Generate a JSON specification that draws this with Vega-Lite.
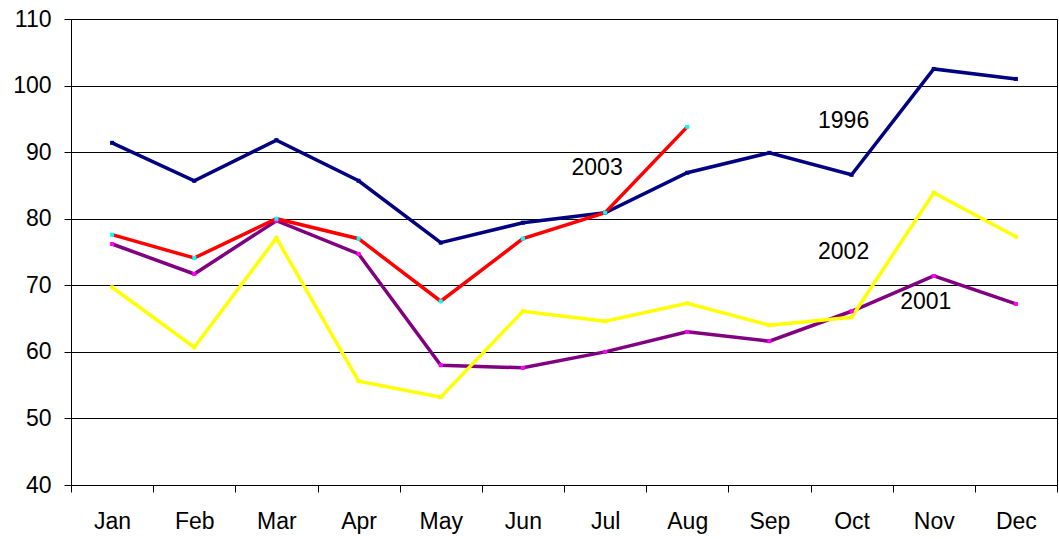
{
  "$schema": "https://vega.github.io/schema/vega-lite/v6.json",
  "width": 986,
  "height": 466,
  "autosize": {"type": "none"},
  "padding": {"left": 71, "top": 19, "right": 2, "bottom": 54},
  "background": "white",
  "config": {
    "view": {"stroke": "black", "strokeWidth": 1},
    "font": "Liberation Sans"
  },
  "datasets": {
    "series": [
      {"month": "Jan", "year": "1996", "value": 91.4},
      {"month": "Feb", "year": "1996", "value": 85.7},
      {"month": "Mar", "year": "1996", "value": 91.8},
      {"month": "Apr", "year": "1996", "value": 85.7},
      {"month": "May", "year": "1996", "value": 76.4},
      {"month": "Jun", "year": "1996", "value": 79.4},
      {"month": "Jul", "year": "1996", "value": 80.9},
      {"month": "Aug", "year": "1996", "value": 86.9},
      {"month": "Sep", "year": "1996", "value": 89.9},
      {"month": "Oct", "year": "1996", "value": 86.6},
      {"month": "Nov", "year": "1996", "value": 102.5},
      {"month": "Dec", "year": "1996", "value": 101.0},
      {"month": "Jan", "year": "2001", "value": 76.2},
      {"month": "Feb", "year": "2001", "value": 71.7},
      {"month": "Mar", "year": "2001", "value": 79.7},
      {"month": "Apr", "year": "2001", "value": 74.7},
      {"month": "May", "year": "2001", "value": 58.0},
      {"month": "Jun", "year": "2001", "value": 57.6},
      {"month": "Jul", "year": "2001", "value": 60.0},
      {"month": "Aug", "year": "2001", "value": 63.0},
      {"month": "Sep", "year": "2001", "value": 61.6},
      {"month": "Oct", "year": "2001", "value": 66.1},
      {"month": "Nov", "year": "2001", "value": 71.4},
      {"month": "Dec", "year": "2001", "value": 67.2},
      {"month": "Jan", "year": "2002", "value": 69.7},
      {"month": "Feb", "year": "2002", "value": 60.7},
      {"month": "Mar", "year": "2002", "value": 77.1},
      {"month": "Apr", "year": "2002", "value": 55.6},
      {"month": "May", "year": "2002", "value": 53.2},
      {"month": "Jun", "year": "2002", "value": 66.1},
      {"month": "Jul", "year": "2002", "value": 64.6},
      {"month": "Aug", "year": "2002", "value": 67.3},
      {"month": "Sep", "year": "2002", "value": 64.0},
      {"month": "Oct", "year": "2002", "value": 65.2},
      {"month": "Nov", "year": "2002", "value": 83.9},
      {"month": "Dec", "year": "2002", "value": 77.3},
      {"month": "Jan", "year": "2003", "value": 77.6},
      {"month": "Feb", "year": "2003", "value": 74.1},
      {"month": "Mar", "year": "2003", "value": 80.0},
      {"month": "Apr", "year": "2003", "value": 77.0},
      {"month": "May", "year": "2003", "value": 67.6},
      {"month": "Jun", "year": "2003", "value": 77.0},
      {"month": "Jul", "year": "2003", "value": 80.9},
      {"month": "Aug", "year": "2003", "value": 93.8}
    ],
    "labels": [
      {"month": "Oct", "year": "1996", "value": 94.7},
      {"month": "Jul", "year": "2003", "value": 87.6},
      {"month": "Oct", "year": "2002", "value": 75.0},
      {"month": "Nov", "year": "2001", "value": 67.5}
    ]
  },
  "encoding": {
    "x": {
      "field": "month",
      "type": "ordinal",
      "sort": ["Jan","Feb","Mar","Apr","May","Jun","Jul","Aug","Sep","Oct","Nov","Dec"],
      "scale": {"type": "band", "paddingInner": 0, "paddingOuter": 0},
      "axis": {
        "title": null,
        "labelAngle": 0,
        "labelFontSize": 23,
        "labelColor": "black",
        "labelPadding": 18,
        "tickBand": "extent",
        "tickColor": "black",
        "tickSize": 7,
        "domainColor": "black",
        "grid": false
      }
    },
    "y": {
      "field": "value",
      "type": "quantitative",
      "scale": {"domain": [40, 110], "nice": false, "zero": false},
      "axis": {
        "title": null,
        "values": [40,50,60,70,80,90,100,110],
        "labelFontSize": 23,
        "labelColor": "black",
        "labelPadding": 13,
        "tickColor": "black",
        "tickSize": 7,
        "domainColor": "black",
        "gridColor": "black",
        "gridOpacity": 1,
        "gridWidth": 1
      }
    }
  },
  "layer": [
    {
      "data": {"name": "series"},
      "mark": {"type": "line", "strokeWidth": 3.5},
      "encoding": {
        "color": {
          "field": "year",
          "type": "nominal",
          "scale": {"domain": ["1996","2001","2002","2003"], "range": ["#000080","#800080","#FFFF00","#FF0000"]},
          "legend": null
        }
      }
    },
    {
      "data": {"name": "series"},
      "mark": {"type": "square", "size": 16, "opacity": 1},
      "encoding": {
        "color": {
          "field": "year",
          "type": "nominal",
          "scale": {"domain": ["1996","2001","2002","2003"], "range": ["#000080","#FF00FF","#FFFF00","#00FFFF"]},
          "legend": null
        }
      }
    },
    {
      "data": {"name": "labels"},
      "mark": {"type": "text", "fontSize": 23, "color": "black", "align": "center", "baseline": "middle", "dx": -8},
      "encoding": {
        "text": {"field": "year"}
      }
    }
  ],
  "resolve": {"scale": {"color": "independent"}}
}
